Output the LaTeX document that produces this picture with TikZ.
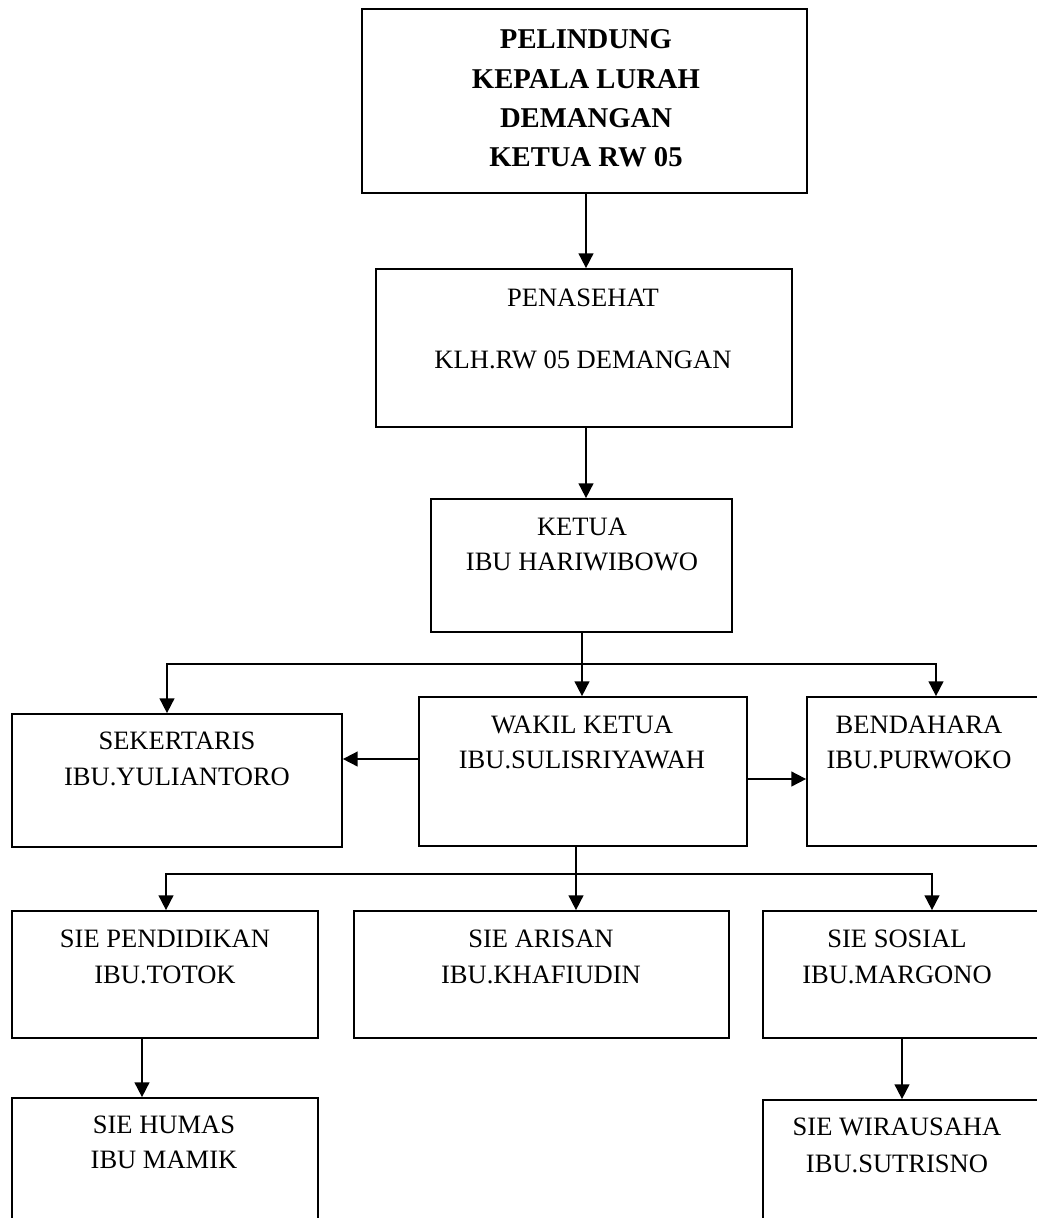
\documentclass[tikz,border=0pt]{standalone}
\usepackage{fontspec}
\setmainfont{Liberation Serif}
\usetikzlibrary{fit,arrows.meta}
\tikzset{
  box/.style={draw, line width=1.3pt, inner sep=0pt, rectangle},
  txt/.style={anchor=base, inner sep=0pt, font=\fontsize{19.9}{24}\selectfont},
  btxt/.style={anchor=base, inner sep=0pt, font=\fontsize{21.5}{26}\selectfont\bfseries},
  conn/.style={line width=1.3pt},
  arr/.style={line width=1.3pt, -{Triangle[length=11pt,width=11pt]}}
}
\begin{document}
\begin{tikzpicture}[x=0.75pt,y=-0.75pt]
\useasboundingbox (0,0) rectangle (1037,1218);
\clip (0,0) rectangle (1037,1218);
\fill[white] (0,0) rectangle (1037,1218);
% boxes
\node[box, fit={(362,9) (807,193)}] (pel) {};
\node[box, fit={(376,269) (792,427)}] (pen) {};
\node[box, fit={(431,499) (732,632)}] (ket) {};
\node[box, fit={(12,714) (342,847)}] (sek) {};
\node[box, fit={(419,697) (747,846)}] (wak) {};
\node[box, fit={(807,697) (1050,846)}] (ben) {};
\node[box, fit={(12,911) (318,1038)}] (pend) {};
\node[box, fit={(354,911) (729,1038)}] (ari) {};
\node[box, fit={(763,911) (1050,1038)}] (sos) {};
\node[box, fit={(12,1098) (318,1240)}] (hum) {};
\node[box, fit={(763,1100) (1050,1240)}] (wir) {};
% texts
\node[btxt] (pel1) at (586,48) {PELINDUNG};
\node[btxt] (pel2) at (586,88) {KEPALA LURAH};
\node[btxt] (pel3) at (586,127) {DEMANGAN};
\node[btxt] (pel4) at (586,166) {KETUA RW 05};
\node[txt] (pen1) at (583,306) {PENASEHAT};
\node[txt] (pen2) at (583,368) {KLH.RW 05 DEMANGAN};
\node[txt] (ket1) at (582,535) {KETUA};
\node[txt] (ket2) at (582,570) {IBU HARIWIBOWO};
\node[txt] (sek1) at (177,749) {SEKERTARIS};
\node[txt] (sek2) at (177,785) {IBU.YULIANTORO};
\node[txt] (wak1) at (582,733) {WAKIL KETUA};
\node[txt] (wak2) at (582,768) {IBU.SULISRIYAWAH};
\node[txt] (ben1) at (919,733) {BENDAHARA};
\node[txt] (ben2) at (919,768) {IBU.PURWOKO};
\node[txt] (pend1) at (165,947) {SIE PENDIDIKAN};
\node[txt] (pend2) at (165,983) {IBU.TOTOK};
\node[txt] (ari1) at (541,947) {SIE ARISAN};
\node[txt] (ari2) at (541,983) {IBU.KHAFIUDIN};
\node[txt] (sos1) at (897,947) {SIE SOSIAL};
\node[txt] (sos2) at (897,983) {IBU.MARGONO};
\node[txt] (hum1) at (164,1133) {SIE HUMAS};
\node[txt] (hum2) at (164,1168) {IBU MAMIK};
\node[txt] (wir1) at (897,1135) {SIE WIRAUSAHA};
\node[txt] (wir2) at (897,1172) {IBU.SUTRISNO};
% connectors
\draw[arr] (pel.south -| 586,0) -- (pen.north -| 586,0);
\draw[arr] (pen.south -| 586,0) -- (ket.north -| 586,0);
\coordinate (j1) at (582,664);
\coordinate (j1a) at (167,664);
\coordinate (j1b) at (936,664);
\draw[conn] (ket.south -| j1) -- (j1);
\draw[arr] (j1) -- (j1 |- wak.north);
\draw[arr] (j1) -- (j1a) -- (j1a |- sek.north);
\draw[arr] (j1) -- (j1b) -- (j1b |- ben.north);
\draw[arr] (wak.west |- 0,759) -- (sek.east |- 0,759);
\draw[arr] (wak.east |- 0,779) -- (ben.west |- 0,779);
\coordinate (j2) at (576,874);
\coordinate (j2a) at (166,874);
\coordinate (j2b) at (932,874);
\draw[conn] (wak.south -| j2) -- (j2);
\draw[arr] (j2) -- (j2 |- ari.north);
\draw[arr] (j2) -- (j2a) -- (j2a |- pend.north);
\draw[arr] (j2) -- (j2b) -- (j2b |- sos.north);
\draw[arr] (pend.south -| 142,0) -- (hum.north -| 142,0);
\draw[arr] (sos.south -| 902,0) -- (wir.north -| 902,0);
\end{tikzpicture}
\end{document}
